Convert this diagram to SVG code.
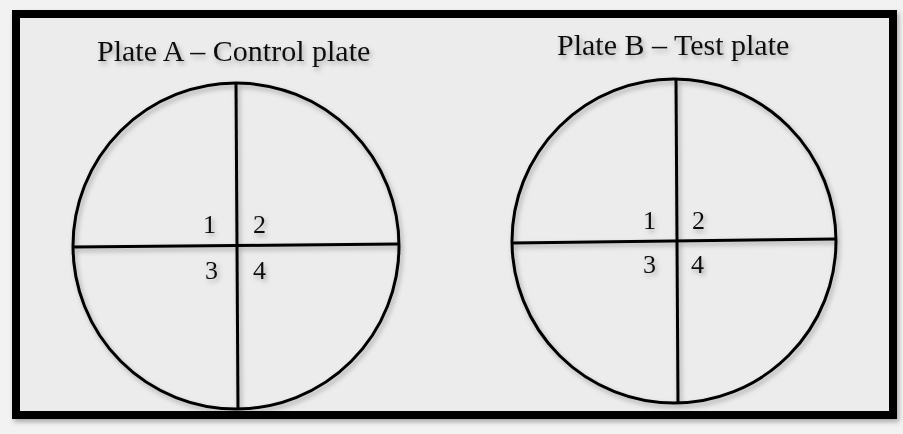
<svg xmlns="http://www.w3.org/2000/svg" width="903" height="434" viewBox="0 0 903 434">
<defs>
<filter id="sh" x="-10%" y="-10%" width="130%" height="130%">
<feDropShadow dx="2" dy="3" stdDeviation="2.5" flood-color="#000" flood-opacity="0.3"/>
</filter>
<style>
.t{font-family:"Liberation Serif","Times New Roman",serif;fill:#111;}
.ttl{font-size:30px;}
.num{font-size:26px;}
.ln{stroke:#000;stroke-width:3;fill:none;}
</style>
</defs>
<rect x="0" y="0" width="903" height="434" fill="#f2f2f2"/>
<rect id="frame" x="16" y="14" width="877" height="401" fill="#ececec" stroke="#000" stroke-width="8" filter="url(#sh)"/>
<g id="plateA" filter="url(#sh)">
<text class="t ttl" x="97" y="61">Plate A – Control plate</text>
<circle class="ln" cx="236" cy="246" r="163"/>
<line class="ln" x1="236" y1="83" x2="238" y2="409"/>
<line class="ln" x1="73" y1="247" x2="399" y2="244"/>
<text class="t num" x="203" y="233">1</text>
<text class="t num" x="253" y="233">2</text>
<text class="t num" x="205" y="279">3</text>
<text class="t num" x="253" y="279">4</text>
</g>
<g id="plateB" filter="url(#sh)">
<text class="t ttl" x="557" y="55">Plate B – Test plate</text>
<circle class="ln" cx="674" cy="241" r="162"/>
<line class="ln" x1="676" y1="79" x2="678" y2="403"/>
<line class="ln" x1="512" y1="243" x2="836" y2="239"/>
<text class="t num" x="643" y="229">1</text>
<text class="t num" x="692" y="229">2</text>
<text class="t num" x="643" y="273">3</text>
<text class="t num" x="691" y="273">4</text>
</g>
</svg>
